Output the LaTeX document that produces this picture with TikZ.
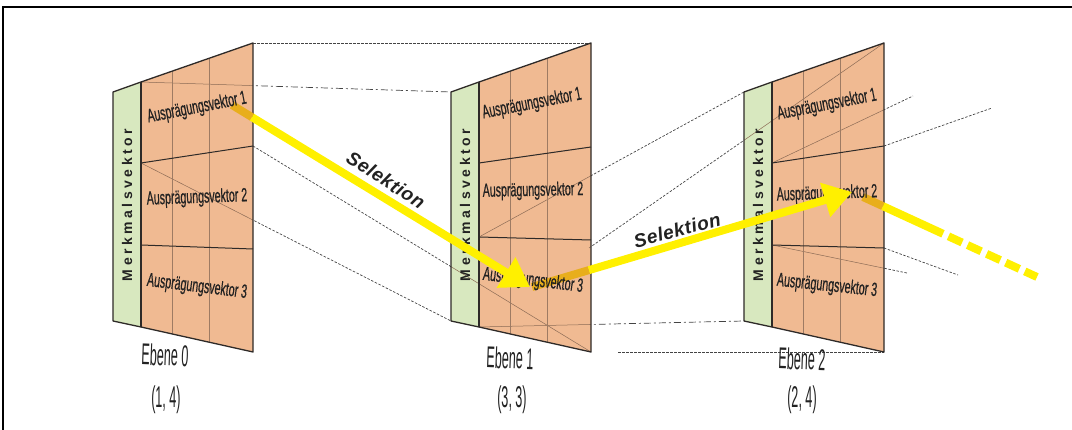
\documentclass[tikz,border=0pt]{standalone}
\usepackage{fontspec}
\setmainfont{Liberation Sans}
\newfontfamily\merkfont[LetterSpace=25]{Liberation Sans}
\newfontfamily\selfont[LetterSpace=3]{Liberation Sans}
\newfontfamily\avfont[FakeBold=0.8]{Liberation Sans}
\usetikzlibrary{arrows.meta,calc}
\definecolor{panelor}{HTML}{F0BA92}
\definecolor{panelgr}{HTML}{D8E8BF}
\definecolor{edgec}{HTML}{2E2A28}
\definecolor{colln}{HTML}{9E7B63}
\definecolor{guidec}{HTML}{444444}
\definecolor{inguide}{HTML}{8C6B55}
\definecolor{arrowy}{HTML}{FFF000}
\definecolor{arrowg}{HTML}{E8AE1C}
\definecolor{txtc}{HTML}{222222}
\newcommand\mkpanel[6]{%
  \coordinate (#1gtl) at (#2,92);
  \coordinate (#1otl) at ({#2+28},82);
  \coordinate (#1obl) at ({#2+28},327);
  \coordinate (#1gbl) at (#2,321);
  \coordinate (#1otr) at ({#2+140},43);
  \coordinate (#1obr) at ({#2+140},352);
  \coordinate (#1dal) at ({#2+28},#3);
  \coordinate (#1dar) at ({#2+140},#4);
  \coordinate (#1dbl) at ({#2+28},#5);
  \coordinate (#1dbr) at ({#2+140},#6);
  \coordinate (#1cat) at ({#2+59},71.2);
  \coordinate (#1cab) at ({#2+59},333.9);
  \coordinate (#1cbt) at ({#2+96},58.3);
  \coordinate (#1cbb) at ({#2+96},342.2);
}
\newcommand\guidelines[3]{%
  \draw[#1] (p0otr) -- (p1otr);
  \draw[#2] (p0otl) -- (p1gtl);
  \draw[#3] (p0dar) -- (p1obr);
  \draw[#3] (p0dal) -- (p1gbl);
  \draw[#3] (p1dbl) -- (p2gtl);
  \draw[#3] (p1b) -- (p2otr);
  \draw[#2] (p1obl) -- (p2gbl);
  \draw[#1] (p1e) -- (p2obr);
  \draw[#3] (p2dal) -- (p2e1);
  \draw[#3] (p2dar) -- (p2e2);
  \draw[#3] (p2dbr) -- (p2e3);
  \draw[#3] (p2dbl) -- (p2e4);
}
\newcommand\drawpanel[1]{%
  \fill[panelgr] (#1gtl) -- (#1otl) -- (#1obl) -- (#1gbl) -- cycle;
  \fill[panelor] (#1otl) -- (#1otr) -- (#1obr) -- (#1obl) -- cycle;
  \begin{scope}
    \clip (#1gtl) -- (#1otl) -- (#1otr) -- (#1obr) -- (#1obl) -- (#1gbl) -- cycle;
    \guidelines{inline}{inline}{inline}
  \end{scope}
  \draw[colline] (#1cat) -- (#1cab);
  \draw[colline] (#1cbt) -- (#1cbb);
  \draw[divline] (#1dal) -- (#1dar);
  \draw[divline] (#1dbl) -- (#1dbr);
  \draw[edgeline] (#1gtl) -- (#1otl) -- (#1otr) -- (#1obr) -- (#1obl) -- (#1gbl) -- cycle;
  \draw[edgeline] (#1otl) -- (#1obl);
}
\begin{document}
\begin{tikzpicture}[x=1pt,y=-1pt,
  edgeline/.style={draw=edgec,line width=1.3pt,line join=round},
  divline/.style={draw=edgec,line width=1pt},
  colline/.style={draw=colln,line width=0.8pt},
  inline/.style={draw=inguide,line width=0.5pt},
  gfine/.style={draw=guidec,line width=0.7pt,dash pattern=on 2.5pt off 1.6pt},
  gdense/.style={draw=guidec,line width=0.7pt,dash pattern=on 3pt off 1pt},
  gdashdot/.style={draw=guidec,line width=0.7pt,dash pattern=on 7pt off 3pt on 2pt off 3pt},
  goldseg/.style={draw=arrowg,line width=8pt},
  yarrow/.style={draw=arrowy,line width=8pt,-{Triangle[length=28pt,width=34pt]}},
  yline/.style={draw=arrowy,line width=8pt},
  avtext/.style={font=\avfont\fontsize{19}{19}\selectfont,text=txtc,inner sep=0pt,transform shape,rotate=#1,xscale=0.56},
  merk/.style={font=\merkfont\bfseries\fontsize{14}{14}\selectfont,text=txtc,inner sep=0pt},
  seltext/.style={font=\selfont\bfseries\itshape\fontsize{19}{19}\selectfont,text=txtc,inner sep=0pt},
  ebtext/.style={font=\fontsize{30}{30}\selectfont,text=txtc,inner sep=0pt,transform shape,rotate=#1,xscale=0.42}]
\useasboundingbox (0,0) rectangle (1072,430);
% frame
\draw[line width=2pt,black] (3,430) -- (3,7) -- (1072,7);
% panel geometry
\mkpanel{p0}{113}{163}{146}{245}{249}
\mkpanel{p1}{451}{163}{147}{237}{240}
\mkpanel{p2}{744}{163}{146}{245}{248}
\coordinate (p1b) at (589,248);
\coordinate (p1e) at (618,352);
\coordinate (p2e1) at (913,96);
\coordinate (p2e2) at (992,108);
\coordinate (p2e3) at (958,275);
\coordinate (p2e4) at (907,273);
% dashed guides
\guidelines{gdense}{gdashdot}{gfine}
% panels
\drawpanel{p0}
\drawpanel{p1}
\drawpanel{p2}
% arrow coordinates
\coordinate (a1s) at (232,105);
\coordinate (a1e) at (252,117.2);
\coordinate (a1t) at (530,287);
\coordinate (a2s) at (532,287);
\coordinate (a2e) at (589,270.1);
\coordinate (a2t) at (852,192);
\coordinate (a3s) at (863,197);
\coordinate (a3e) at (883,206.2);
\coordinate (a3m) at (943,233.8);
\coordinate (a3t) at (1037,277);
\draw[goldseg] (a1s) -- (a1e);
\draw[goldseg] (a2s) -- (a2e);
\draw[goldseg] (a3s) -- (a3e);
% texts
\node[merk,rotate=90] (p0m) at (127,205) {Merkmalsvektor};
\node[merk,rotate=90] (p1m) at (465,205) {Merkmalsvektor};
\node[merk,rotate=90] (p2m) at (758,205) {Merkmalsvektor};
\node[avtext=11] (p0r1) at (197,108) {Ausprägungsvektor 1};
\node[avtext=2] (p0r2) at (197,198) {Ausprägungsvektor 2};
\node[avtext=-7] (p0r3) at (197,287) {Ausprägungsvektor 3};
\node[avtext=11] (p1r1) at (532,104) {Ausprägungsvektor 1};
\node[avtext=1] (p1r2) at (533,191) {Ausprägungsvektor 2};
\node[avtext=-7] (p1r3) at (533,281) {Ausprägungsvektor 3};
\node[avtext=11] (p2r1) at (827,105) {Ausprägungsvektor 1};
\node[avtext=2] (p2r2) at (827,194) {Ausprägungsvektor 2};
\node[avtext=-6] (p2r3) at (827,286) {Ausprägungsvektor 3};
% yellow arrows
\draw[yarrow] (a1e) -- (a1t);
\draw[yarrow] (a2e) -- (a2t);
\draw[yline] (a3e) -- (a3m);
\draw[yline,dash pattern=on 15pt off 6pt,dash phase=15pt] (a3m) -- (a3t);
% labels
\node[seltext,rotate=-33] (sel1) at (386,180) {Selektion};
\node[seltext,rotate=15] (sel2) at (677,230) {Selektion};
\node[ebtext=-2] (e0) at (165,355) {Ebene 0};
\node[ebtext=0] (e0n) at (166,400) {(1, 4)};
\node[ebtext=-2] (e1) at (510,358) {Ebene 1};
\node[ebtext=0] (e1n) at (512,400) {(3, 3)};
\node[ebtext=-2] (e2) at (802,359) {Ebene 2};
\node[ebtext=0] (e2n) at (802,400) {(2, 4)};
\end{tikzpicture}
\end{document}
